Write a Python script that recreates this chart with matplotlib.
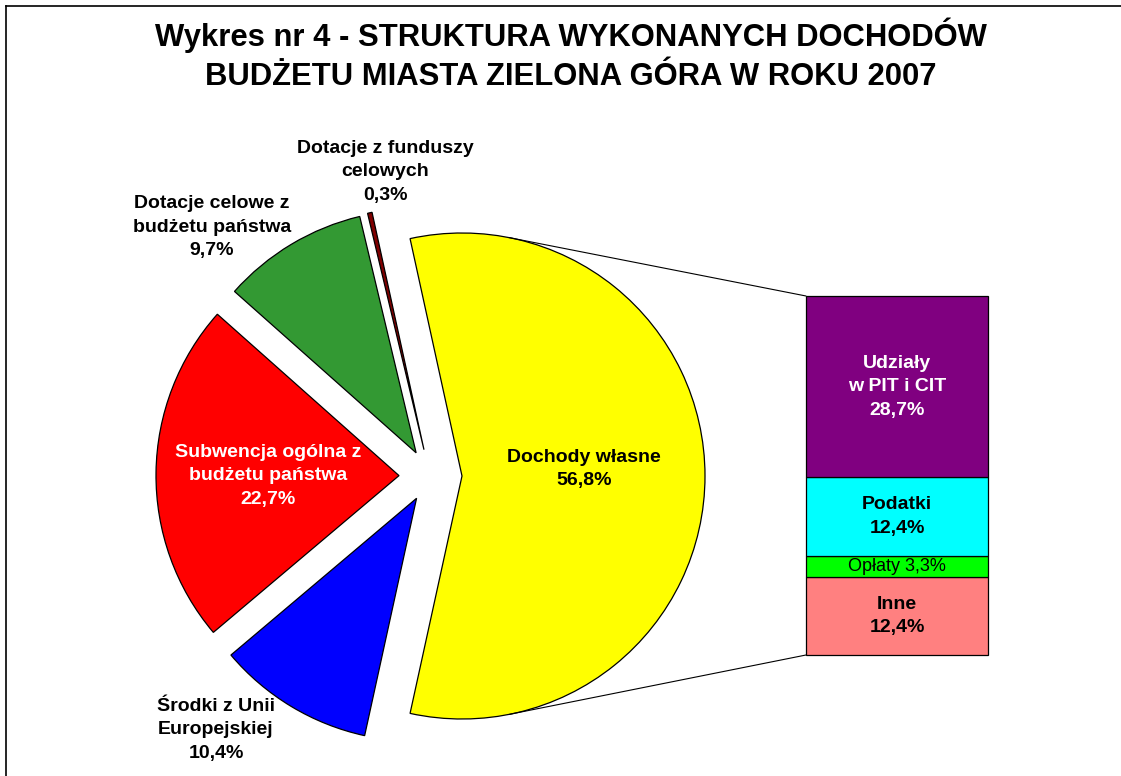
import math
import matplotlib
matplotlib.use("Agg")
import matplotlib.pyplot as plt
from matplotlib.patches import ConnectionPatch

plt.rcParams['font.family'] = ['Liberation Sans', 'DejaVu Sans']

# pie: main structure of revenues (%)
pie_labels = ["Dochody własne", "Dotacje z funduszy\ncelowych",
              "Dotacje celowe z\nbudżetu państwa", "Subwencja ogólna z\nbudżetu państwa",
              "Środki z Unii\nEuropejskiej"]
pie_values = [56.8, 0.3, 9.7, 22.7, 10.4]
pie_colors = ["#FFFF00", "#800000", "#339933", "#FF0000", "#0000FF"]

# bar: breakdown of "Dochody własne" (%), bottom to top
bar_labels = ["Inne", "Opłaty", "Podatki", "Udziały\nw PIT i CIT"]
bar_values = [12.4, 3.3, 12.4, 28.7]
bar_colors = ["#FF8080", "#00FF00", "#00FFFF", "#800080"]

W, H = 1121, 776
fig = plt.figure(figsize=(W / 100, H / 100), dpi=100)
ax = fig.add_axes([0, 0, 1, 1])

total = sum(pie_values)
start = -pie_values[0] / total * 180
wedges, _ = ax.pie(pie_values, colors=pie_colors, startangle=start, counterclock=True,
                   center=(430, 300), radius=243, explode=[32, 27, 27, 31, 26],
                   wedgeprops=dict(edgecolor="black", linewidth=0.9))
ax.set_xlim(0, W)
ax.set_ylim(0, H)
ax.set_aspect("auto")
ax.axis("off")

# frame (only top and left edges visible)
ax.plot([6, 6], [0, H - 6], color="black", lw=1.2, clip_on=False)
ax.plot([6, W], [H - 6, H - 6], color="black", lw=1.2, clip_on=False)

ax.text(571, H - 55, "Wykres nr 4 - STRUKTURA WYKONANYCH DOCHODÓW\nBUDŻETU MIASTA ZIELONA GÓRA W ROKU 2007",
        ha="center", va="center", fontsize=22.3, fontweight="bold", linespacing=1.37)

def pct(v):
    return ("%.1f%%" % v).replace(".", ",")

lab_kw = dict(ha="center", va="center", fontsize=14, fontweight="bold", linespacing=1.5)
ax.text(584, H - 469, pie_labels[0] + "\n" + pct(pie_values[0]), **lab_kw)
ax.text(385, H - 172, pie_labels[1] + "\n" + pct(pie_values[1]), **lab_kw)
ax.text(212, H - 227, pie_labels[2] + "\n" + pct(pie_values[2]), **lab_kw)
ax.text(268, H - 476, pie_labels[3] + "\n" + pct(pie_values[3]), color="white", **lab_kw)
ax.text(216, H - 730, pie_labels[4] + "\n" + pct(pie_values[4]), **lab_kw)

# stacked bar
bx0, by0, bw, bh = 806, 121, 182, 359
ax2 = fig.add_axes([bx0 / W, by0 / H, bw / W, bh / H])
bottom = 0
for lab, v, c in zip(bar_labels, bar_values, bar_colors):
    ax2.bar(0, v, bottom=bottom, width=1, color=c, edgecolor="black", linewidth=0.9,
            clip_on=False)
    mid = bottom + v / 2
    if lab == "Opłaty":
        ax2.text(0, mid, lab + " " + pct(v), ha="center", va="center", fontsize=13)
    else:
        ax2.text(0, mid, lab + "\n" + pct(v), ha="center", va="center", fontsize=14,
                 fontweight="bold", linespacing=1.5,
                 color="white" if c == "#800080" else "black")
    bottom += v
ax2.set_xlim(-0.5, 0.5)
ax2.set_ylim(0, sum(bar_values))
ax2.axis("off")

# connector lines tangent to the yellow slice
cx, cy = wedges[0].center
r = wedges[0].r
for ypt, sgn in [(by0 + bh, 1), (by0, -1)]:
    dx, dy = bx0 - cx, ypt - cy
    d = math.hypot(dx, dy)
    a = math.atan2(dy, dx) + sgn * math.acos(r / d)
    tx, ty = cx + r * math.cos(a), cy + r * math.sin(a)
    ya = sum(bar_values) if sgn > 0 else 0
    con = ConnectionPatch(xyA=(-0.5, ya), coordsA=ax2.transData,
                          xyB=(tx, ty), coordsB=ax.transData,
                          color="black", lw=0.8)
    fig.add_artist(con)

fig.savefig("out.png", dpi=100)
